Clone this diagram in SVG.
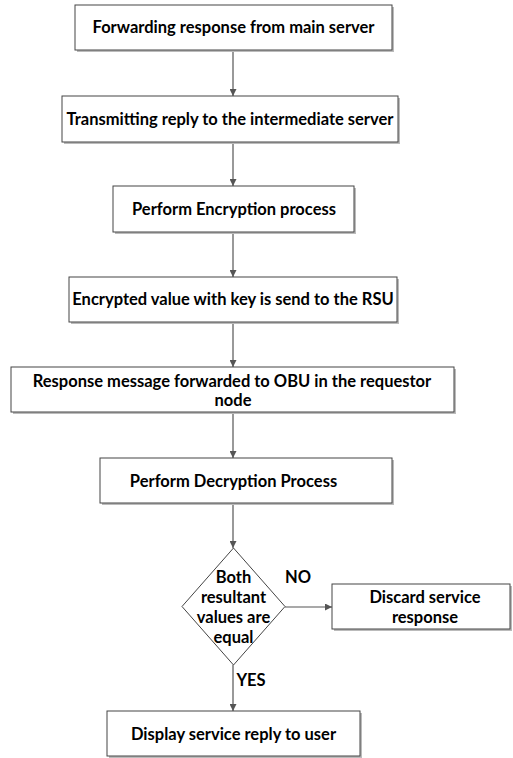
<svg xmlns="http://www.w3.org/2000/svg" width="513" height="758" viewBox="0 0 513 758">
<style>
.box{fill:#fff;stroke:#444;stroke-width:1}
.sh{fill:#bbb;stroke:none}
.t{font-family:Lato,"Open Sans","Liberation Sans",sans-serif;font-weight:bold;font-size:16.5px;fill:#000;text-anchor:middle}
.c{stroke:#555;stroke-width:1.2;fill:none;marker-end:url(#ah)}
</style>
<defs>
<marker id="ah" viewBox="0 0 10 10" refX="10" refY="5" markerWidth="7" markerHeight="7" markerUnits="userSpaceOnUse" orient="auto">
<path d="M0,0 L10,5 L0,10 z" fill="#555"/>
</marker>
</defs>
<rect width="513" height="758" fill="#fff"/>
<g id="connectors">
<line class="c" x1="233" y1="50" x2="233" y2="96"/>
<line class="c" x1="233" y1="142" x2="233" y2="186"/>
<line class="c" x1="233" y1="232" x2="233" y2="277"/>
<line class="c" x1="233" y1="322" x2="233" y2="367"/>
<line class="c" x1="233" y1="412" x2="233" y2="458"/>
<line class="c" x1="233" y1="503" x2="233" y2="548"/>
<line class="c" x1="233" y1="665" x2="233" y2="711"/>
<line class="c" x1="285" y1="607" x2="332" y2="607"/>
<text class="t" x="298" y="583">NO</text>
<text class="t" x="251" y="686">YES</text>
</g>
<g id="n1">
<rect class="sh" x="77" y="7" width="317" height="45"/>
<rect class="box" x="75" y="5" width="317" height="45"/>
<text class="t" x="233.5" y="33">Forwarding response from main server</text>
</g>
<g id="n2">
<rect class="sh" x="64" y="98" width="336" height="46"/>
<rect class="box" x="62" y="96" width="336" height="46"/>
<text class="t" x="230" y="125">Transmitting reply to the intermediate server</text>
</g>
<g id="n3">
<rect class="sh" x="115" y="188" width="241" height="46"/>
<rect class="box" x="113" y="186" width="241" height="46"/>
<text class="t" x="234" y="215">Perform Encryption process</text>
</g>
<g id="n4">
<rect class="sh" x="71" y="279" width="328" height="45"/>
<rect class="box" x="69" y="277" width="328" height="45"/>
<text class="t" x="233" y="305">Encrypted value with key is send to the RSU</text>
</g>
<g id="n5">
<rect class="sh" x="13" y="369" width="443" height="45"/>
<rect class="box" x="11" y="367" width="443" height="45"/>
<text class="t" x="232" y="387">Response message forwarded to OBU in the requestor</text>
<text class="t" x="233" y="406">node</text>
</g>
<g id="n6">
<rect class="sh" x="102" y="460" width="292" height="45"/>
<rect class="box" x="100" y="458" width="292" height="45"/>
<text class="t" x="233.5" y="487">Perform Decryption Process</text>
</g>
<g id="n7">
<polygon class="box" points="233.5,548 285,606.5 233.5,665 182,606.5"/>
<text class="t" x="233.5" y="583">Both</text>
<text class="t" x="233.5" y="603">resultant</text>
<text class="t" x="233.5" y="623">values are</text>
<text class="t" x="233.5" y="643">equal</text>
</g>
<g id="n8">
<rect class="sh" x="334" y="586" width="178" height="45"/>
<rect class="box" x="332" y="584" width="178" height="45"/>
<text class="t" x="425" y="603">Discard service</text>
<text class="t" x="425" y="623">response</text>
</g>
<g id="n9">
<rect class="sh" x="109" y="713" width="253" height="45"/>
<rect class="box" x="107" y="711" width="253" height="45"/>
<text class="t" x="233.5" y="740">Display service reply to user</text>
</g>
</svg>
